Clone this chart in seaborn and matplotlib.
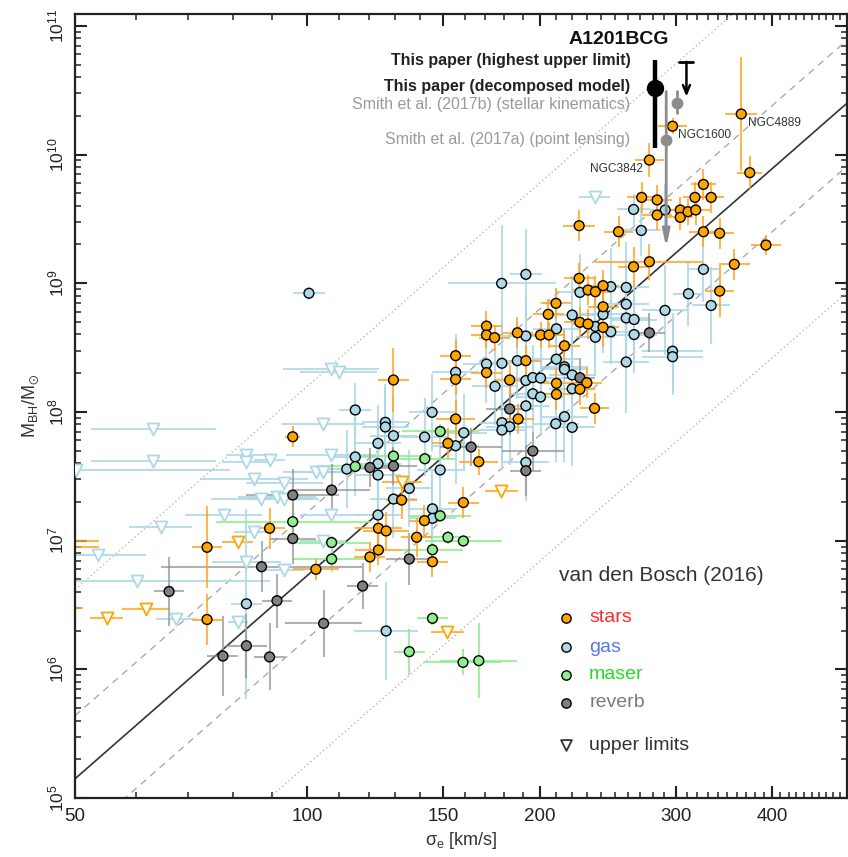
import numpy as np
import pandas as pd
import matplotlib
matplotlib.use("Agg")
import matplotlib.pyplot as plt
import seaborn as sns
from matplotlib.ticker import FixedLocator, LogFormatterSciNotation, NullFormatter, FixedFormatter

sns.set_style("ticks")
plt.rcParams["font.family"] = ["Liberation Sans", "DejaVu Sans"]
plt.rcParams["mathtext.fontset"] = "custom"
plt.rcParams["mathtext.rm"] = "Liberation Sans"
plt.rcParams["mathtext.it"] = "Liberation Sans:italic"
plt.rcParams["mathtext.bf"] = "Liberation Sans:bold"

# ---------------------------------------------------------------------------
# van den Bosch (2016) compilation: log10(sigma_e / km s^-1), log10(M_BH / Msun)
# and symmetric errors in dex
# ---------------------------------------------------------------------------
stars_log_sigma = [2.473, 2.562, 2.573, 2.443, 2.513, 2.433, 2.453, 2.502, 2.523, 2.453,
                   2.483, 2.483, 2.493, 2.503, 2.352, 2.403, 2.513, 2.534, 2.594, 2.443,
                   2.4225, 2.553, 2.352, 2.3635, 2.373, 2.383, 2.534, 2.322, 2.312, 2.383,
                   2.353, 2.3635, 2.383, 2.232, 2.232, 2.2425, 2.272, 2.302, 2.313, 2.333,
                   2.192, 2.283, 2.192, 2.232, 2.262, 2.1115, 2.362, 2.3226, 2.353, 2.3226,
                   2.372, 2.192, 2.273, 1.981, 2.182, 2.222, 2.122, 2.202, 2.1516, 2.092,
                   2.102, 2.1415, 2.092, 2.081, 2.162, 2.011, 1.870, 1.951, 1.870]
stars_log_mbh = [10.22, 10.315, 9.859, 9.957, 9.768, 9.667, 9.647, 9.667, 9.667, 9.530,
                 9.569, 9.512, 9.556, 9.569, 9.447, 9.400, 9.400, 9.388, 9.297, 9.167,
                 9.128, 9.147, 9.038, 8.947, 8.934, 8.981, 8.939, 8.844, 8.758, 8.817,
                 8.696, 8.683, 8.657, 8.667, 8.598, 8.577, 8.615, 8.598, 8.598, 8.514,
                 8.437, 8.398, 8.253, 8.305, 8.248, 8.248, 8.227, 8.222, 8.176, 8.137,
                 8.028, 7.945, 7.945, 7.807, 7.756, 7.613, 7.315, 7.296, 7.155, 7.096,
                 7.075, 7.026, 6.927, 6.873, 6.836, 6.777, 6.948, 7.096, 6.387]
stars_sigma_err = [0.019, 0.021, 0.016, 0.019, 0.016, 0.019, 0.019, 0.016, 0.016, 0.019,
                   0.016, 0.016, 0.016, 0.019, 0.021, 0.019, 0.019, 0.019, 0.019, 0.070,
                   0.020, 0.020, 0.020, 0.020, 0.020, 0.020, 0.019, 0.020, 0.020, 0.020,
                   0.020, 0.020, 0.020, 0.020, 0.020, 0.020, 0.020, 0.020, 0.020, 0.020,
                   0.020, 0.020, 0.020, 0.020, 0.020, 0.020, 0.020, 0.020, 0.020, 0.020,
                   0.019, 0.025, 0.020, 0.010, 0.020, 0.025, 0.020, 0.020, 0.020, 0.030,
                   0.030, 0.020, 0.030, 0.020, 0.020, 0.030, 0.020, 0.020, 0.020]
stars_mbh_err = [0.06, 0.44, 0.13, 0.13, 0.12, 0.12, 0.12, 0.12, 0.12, 0.12,
                 0.10, 0.10, 0.10, 0.12, 0.12, 0.12, 0.12, 0.12, 0.08, 0.14,
                 0.15, 0.12, 0.12, 0.12, 0.12, 0.12, 0.20, 0.12, 0.12, 0.12,
                 0.12, 0.12, 0.15, 0.12, 0.10, 0.10, 0.12, 0.10, 0.10, 0.12,
                 0.12, 0.12, 0.12, 0.12, 0.12, 0.25, 0.12, 0.12, 0.12, 0.12,
                 0.12, 0.15, 0.12, 0.08, 0.12, 0.10, 0.15, 0.12, 0.12, 0.12,
                 0.15, 0.15, 0.12, 0.12, 0.12, 0.08, 0.32, 0.16, 0.20]

gas_log_sigma = [2.002, 2.2516, 2.283, 2.4225, 2.4635, 2.4325, 2.513, 2.353, 2.393, 2.413,
                 2.4936, 2.383, 2.413, 2.4632, 2.523, 2.343, 2.373, 2.393, 2.413, 2.4232,
                 2.4232, 2.373, 2.3226, 2.283, 2.473, 2.473, 2.232, 2.252, 2.272, 2.3224,
                 2.333, 2.413, 2.192, 2.243, 2.283, 2.292, 2.302, 2.333, 2.343, 2.343,
                 2.292, 2.302, 2.062, 2.1615, 2.283, 2.252, 2.262, 2.252, 2.3217, 2.333,
                 2.343, 2.101, 2.101, 2.1115, 2.1518, 2.2025, 2.192, 2.0914, 2.283, 2.062,
                 2.051, 2.0914, 2.0914, 2.172, 2.132, 2.1115, 2.0914, 2.162, 2.162, 1.921,
                 2.102]
gas_log_mbh = [8.922, 8.999, 9.069, 9.573, 9.569, 9.410, 9.108, 8.929, 8.973, 8.967,
               8.918, 8.757, 8.837, 8.789, 8.827, 8.753, 8.664, 8.623, 8.730, 8.718,
               8.601, 8.580, 8.646, 8.590, 8.472, 8.429, 8.372, 8.378, 8.398, 8.410,
               8.351, 8.388, 8.308, 8.199, 8.244, 8.267, 8.263, 8.331, 8.287, 8.180,
               8.141, 8.116, 8.015, 7.997, 8.047, 7.916, 7.885, 7.859, 7.908, 7.963,
               7.880, 7.919, 7.883, 7.815, 7.805, 7.838, 7.737, 7.756, 7.608, 7.650,
               7.556, 7.598, 7.510, 7.549, 7.406, 7.323, 7.199, 7.247, 7.173, 6.509,
               6.298]
gas_sigma_err = [0.021, 0.070, 0.021, 0.021, 0.020, 0.025, 0.020, 0.030, 0.030, 0.030,
                 0.020, 0.030, 0.030, 0.030, 0.025, 0.030, 0.025, 0.030, 0.030, 0.030,
                 0.030, 0.025, 0.030, 0.030, 0.040, 0.040, 0.030, 0.030, 0.025, 0.030,
                 0.030, 0.030, 0.030, 0.030, 0.030, 0.025, 0.030, 0.030, 0.030, 0.030,
                 0.030, 0.030, 0.021, 0.030, 0.030, 0.030, 0.030, 0.030, 0.030, 0.030,
                 0.030, 0.030, 0.030, 0.030, 0.030, 0.030, 0.030, 0.030, 0.030, 0.030,
                 0.030, 0.030, 0.030, 0.030, 0.030, 0.030, 0.030, 0.030, 0.030, 0.020,
                 0.041]
gas_mbh_err = [0.05, 0.45, 0.35, 0.12, 0.20, 0.20, 0.25, 0.30, 0.30, 0.35,
               0.25, 0.30, 0.30, 0.35, 0.30, 0.30, 0.30, 0.25, 0.30, 0.30,
               0.30, 0.30, 0.30, 0.30, 0.30, 0.30, 0.30, 0.35, 0.30, 0.30,
               0.30, 0.40, 0.30, 0.30, 0.30, 0.25, 0.30, 0.30, 0.30, 0.30,
               0.30, 0.30, 0.21, 0.30, 0.30, 0.30, 0.30, 0.30, 0.30, 0.35,
               0.30, 0.30, 0.30, 0.30, 0.30, 0.30, 0.30, 0.30, 0.30, 0.30,
               0.30, 0.30, 0.30, 0.30, 0.30, 0.30, 0.30, 0.30, 0.30, 0.74,
               0.38]

maser_log_sigma = [2.172, 2.1521, 2.1115, 2.062, 1.981, 2.0314, 2.0314, 2.172, 2.182, 2.202,
                   2.162, 2.162, 2.132, 2.2016, 2.222]
maser_log_mbh = [7.848, 7.636, 7.657, 7.576, 7.147, 6.985, 6.857, 7.193, 7.026, 6.997,
                 6.929, 6.396, 6.137, 6.054, 6.067]
maser_sigma_err = [0.05, 0.04, 0.05, 0.05, 0.10, 0.05, 0.05, 0.04, 0.03, 0.05,
                   0.04, 0.02, 0.02, 0.05, 0.05]
maser_mbh_err = [0.06, 0.06, 0.06, 0.05, 0.15, 0.05, 0.10, 0.05, 0.05, 0.05,
                 0.05, 0.05, 0.18, 0.10, 0.29]

reverb_log_sigma = [2.443, 2.353, 2.262, 2.212, 2.292, 2.283, 2.1115, 2.081, 2.0314, 1.981,
                    1.981, 2.132, 1.9406, 1.8208, 1.9606, 2.021, 1.921, 1.8906, 1.951, 2.0715]
reverb_log_mbh = [8.615, 8.266, 8.023, 7.727, 7.696, 7.543, 7.580, 7.568, 7.393, 7.354,
                  7.016, 6.857, 6.797, 6.605, 6.533, 6.357, 6.183, 6.103, 6.096, 6.647]
reverb_sigma_err = [0.02, 0.02, 0.03, 0.04, 0.04, 0.02, 0.03, 0.03, 0.05, 0.06,
                    0.03, 0.03, 0.13, 0.02, 0.02, 0.05, 0.027, 0.02, 0.02, 0.02]
reverb_mbh_err = [0.15, 0.15, 0.20, 0.15, 0.15, 0.20, 0.15, 0.15, 0.20, 0.20,
                  0.20, 0.20, 0.20, 0.27, 0.21, 0.26, 0.25, 0.31, 0.26, 0.18]

# upper limits (gas and stellar dynamics)
gas_ul_log_sigma = [2.3721, 2.0307, 2.0407, 2.0207, 2.0307, 2.011, 2.0207, 2.0307, 2.0198, 1.8002,
                    1.8002, 1.700, 1.921, 1.921, 1.951, 1.9307, 1.9703, 1.9402, 1.9606, 1.9703,
                    1.8915, 1.8101, 1.9307, 1.7291, 1.921, 1.7795, 1.9703, 1.8304, 1.910]
gas_ul_log_mbh = [9.672, 8.333, 8.310, 7.906, 7.669, 7.537, 7.537, 7.199, 6.997, 7.865,
                  7.615, 7.545, 7.665, 7.611, 7.626, 7.475, 7.450, 7.325, 7.339, 7.325,
                  7.199, 7.106, 7.067, 6.888, 6.836, 6.686, 6.768, 6.391, 6.366]
gas_ul_sigma_err = [0.020, 0.062, 0.050, 0.054, 0.058, 0.043, 0.040, 0.040, 0.030, 0.081,
                    0.081, 0.200, 0.026, 0.032, 0.020, 0.070, 0.050, 0.065, 0.050, 0.045,
                    0.050, 0.041, 0.026, 0.062, 0.045, 0.172, 0.026, 0.026, 0.013]

stars_ul_log_sigma = [2.122, 2.2513, 2.1813, 1.910, 1.7903, 1.740, 1.660, 1.660, 1.655]
stars_ul_log_mbh = [7.455, 7.383, 6.292, 6.989, 6.471, 6.396, 6.999, 6.953, 6.479]
stars_ul_sigma_err = [0.026, 0.021, 0.021, 0.020, 0.030, 0.021, 0.070, 0.070, 0.054]

# M-sigma relation with intrinsic scatter (dex)
fit_intercept = 8.31
fit_slope = 5.25
fit_scatter = 0.49

# A1201 BCG and comparison measurements
a1201_log_sigma = 2.4506
a1201_log_mbh = 10.514
a1201_log_mbh_range = (10.05, 10.734)
a1201_limit_log_sigma = 2.491
a1201_limit_log_mbh = 10.72
smith_b_log_sigma = 2.4785
smith_b_log_mbh = 10.398
smith_b_range = (10.32, 10.49)
smith_a_log_sigma = 2.4648
smith_a_log_mbh = 10.11
smith_a_range = (9.28, 10.49)

colors = {"stars": "#FFA500", "gas": "#ADD8E6", "maser": "#90EE90", "reverb": "#808080"}
bar_colors = {"stars": "#FFA520", "gas": "#ADD8E6", "maser": "#90EE90", "reverb": "#909090"}
bar_alpha = {"stars": 0.8, "gas": 0.85, "maser": 0.85, "reverb": 0.7}

fig = plt.figure(figsize=(8.48, 8.57), dpi=100)
ax = fig.add_axes([75 / 848, 1 - 798 / 857, 772 / 848, 784 / 857])
ax.set_xscale("log")
ax.set_yscale("log")
ax.set_xlim(50, 500)
ax.set_ylim(1e5, 10 ** 11.092)

# relation lines
sig_line = np.geomspace(50, 500, 300)
base = fit_intercept + fit_slope * np.log10(sig_line / 200.0)
ax.plot(sig_line, 10 ** base, color="#333333", lw=1.2, zorder=1)
for k in (-1, 1):
    ax.plot(sig_line, 10 ** (base + k * fit_scatter), color="#aaaaaa", lw=1.0,
            dashes=(5, 4), zorder=1)
    ax.plot(sig_line, 10 ** (base + 3 * k * fit_scatter), color="#b8b8b8", lw=1.0,
            linestyle=(0, (1, 2)), zorder=1)


def log_bars(logv, dlog):
    logv = np.asarray(logv, float)
    dlog = np.asarray(dlog, float)
    v = 10 ** logv
    return v, np.vstack([v - 10 ** (logv - dlog), 10 ** (logv + dlog) - v])


groups = {
    "gas": (gas_log_sigma, gas_log_mbh, gas_sigma_err, gas_mbh_err),
    "maser": (maser_log_sigma, maser_log_mbh, maser_sigma_err, maser_mbh_err),
    "reverb": (reverb_log_sigma, reverb_log_mbh, reverb_sigma_err, reverb_mbh_err),
    "stars": (stars_log_sigma, stars_log_mbh, stars_sigma_err, stars_mbh_err),
}

# upper limits with their sigma ranges
for name, (ls, lm, dx) in {"gas": (gas_ul_log_sigma, gas_ul_log_mbh, gas_ul_sigma_err),
                           "stars": (stars_ul_log_sigma, stars_ul_log_mbh, stars_ul_sigma_err)}.items():
    s, xe = log_bars(ls, dx)
    m = 10 ** np.asarray(lm)
    ax.errorbar(s, m, xerr=xe, fmt="none", ecolor=bar_colors[name], elinewidth=1.5,
                alpha=bar_alpha[name], capsize=0, zorder=2)
    ax.scatter(s, m, marker="v", s=75, facecolors="white", edgecolors=colors[name],
               linewidths=1.3, zorder=3)

# error bars of detections
for name, (ls, lm, dx, dm) in groups.items():
    s, xe = log_bars(ls, dx)
    m, ye = log_bars(lm, dm)
    ax.errorbar(s, m, xerr=xe, yerr=ye, fmt="none", ecolor=bar_colors[name],
                elinewidth=1.5, alpha=bar_alpha[name], capsize=0, zorder=2)

frames = []
for name, (ls, lm, dx, dm) in groups.items():
    frames.append(pd.DataFrame({"sigma": 10 ** np.asarray(ls), "mbh": 10 ** np.asarray(lm),
                                "method": name}))
points = pd.concat(frames, ignore_index=True)
sns.scatterplot(data=points, x="sigma", y="mbh", hue="method", palette=colors, s=50,
                edgecolor="black", linewidth=1.0, legend=False, zorder=4, ax=ax)

# A1201 BCG
a_sig = 10 ** a1201_log_sigma
ax.plot([a_sig, a_sig], [10 ** a1201_log_mbh_range[0], 10 ** a1201_log_mbh_range[1]],
        color="black", lw=3.2, solid_capstyle="butt", zorder=6)
ax.plot([a_sig], [10 ** a1201_log_mbh], "o", color="black", ms=11.5, zorder=7)

l_sig = 10 ** a1201_limit_log_sigma
ax.plot([l_sig / 10 ** 0.009, l_sig * 10 ** 0.009], [10 ** a1201_limit_log_mbh] * 2,
        color="black", lw=2, zorder=6)
ax.annotate("", xy=(l_sig, 10 ** (a1201_limit_log_mbh - 0.27)),
            xytext=(l_sig, 10 ** a1201_limit_log_mbh),
            arrowprops=dict(arrowstyle="->,head_length=0.6,head_width=0.25", color="black",
                            lw=1.8, shrinkA=0, shrinkB=0), zorder=6)

sb = 10 ** smith_b_log_sigma
ax.plot([sb, sb], [10 ** smith_b_range[0], 10 ** smith_b_range[1]], color="#8c8c8c", lw=2,
        zorder=5)
ax.plot([sb], [10 ** smith_b_log_mbh], "o", color="#8c8c8c", ms=7.5, zorder=5)

sa = 10 ** smith_a_log_sigma
ax.annotate("", xy=(sa, 10 ** smith_a_range[0]), xytext=(sa, 10 ** smith_a_range[1]),
            arrowprops=dict(arrowstyle="-|>,head_length=1.0,head_width=0.22", color="#8c8c8c",
                            lw=2, shrinkA=0, shrinkB=0), zorder=5)
ax.plot([sa], [10 ** smith_a_log_mbh], "o", color="#8c8c8c", ms=7.5, zorder=5)

ax.text(253, 10 ** 10.89, "A1201BCG", ha="center", va="center", fontsize=14,
        fontweight="bold", color="#111111")
ax.text(262, 10 ** 10.734, "This paper (highest upper limit)", ha="right", va="center",
        fontsize=11.5, fontweight="bold", color="#222222")
ax.text(262, 10 ** 10.532, "This paper (decomposed model)", ha="right", va="center",
        fontsize=11.5, fontweight="bold", color="#222222")
ax.text(262, 10 ** 10.385, "Smith et al. (2017b) (stellar kinematics)", ha="right",
        va="center", fontsize=11.5, color="#9a9a9a")
ax.text(262, 10 ** 10.12, "Smith et al. (2017a) (point lensing)", ha="right",
        va="center", fontsize=11.5, color="#9a9a9a")

ax.text(301.6, 10 ** 10.152, "NGC1600", ha="left", va="center", fontsize=8.6, color="#333333")
ax.text(372.6, 10 ** 10.245, "NGC4889", ha="left", va="center", fontsize=8.6, color="#333333")
ax.text(272.5, 10 ** 9.887, "NGC3842", ha="right", va="center", fontsize=8.6, color="#333333")

# legend block
ax.text(0.627, 0.284, "van den Bosch (2016)", transform=ax.transAxes, ha="left",
        va="center", fontsize=15, color="#333333")
legend_rows = [("stars", "#FF2A2A", 0.2296), ("gas", "#5577EE", 0.1926),
               ("maser", "#22DD22", 0.1569), ("reverb", "#7a7a7a", 0.1212)]
for name, tcol, yy in legend_rows:
    ax.scatter([0.6365], [yy], transform=ax.transAxes, s=45, color=colors[name],
               edgecolor="black", linewidth=1.0, zorder=6, clip_on=False)
    ax.text(0.666, yy, name, transform=ax.transAxes, ha="left", va="center",
            fontsize=14, color=tcol)
ax.scatter([0.6365], [0.0676], transform=ax.transAxes, marker="v", s=60,
           facecolors="white", edgecolors="#333333", linewidth=1.3, zorder=6, clip_on=False)
ax.text(0.666, 0.0676, "upper limits", transform=ax.transAxes, ha="left", va="center",
        fontsize=14, color="#333333")

# axes styling
x_major = [50, 100, 150, 200, 300, 400]
x_minor = [v for v in range(60, 500, 10) if v not in x_major]
ax.xaxis.set_major_locator(FixedLocator(x_major))
ax.xaxis.set_major_formatter(FixedFormatter([str(v) for v in x_major]))
ax.xaxis.set_minor_locator(FixedLocator(x_minor))
ax.xaxis.set_minor_formatter(NullFormatter())
y_major = [10.0 ** p for p in range(5, 12)]
y_minor = [k * 10.0 ** p for p in range(5, 11) for k in range(2, 10)]
ax.yaxis.set_major_locator(FixedLocator(y_major))
ax.yaxis.set_major_formatter(LogFormatterSciNotation())
ax.yaxis.set_minor_locator(FixedLocator(y_minor))
ax.yaxis.set_minor_formatter(NullFormatter())

ax.tick_params(which="both", direction="in", top=True, right=True, colors="#222222")
ax.tick_params(which="major", length=8.5, width=1.5)
ax.tick_params(which="minor", length=4, width=1.1)
ax.tick_params(axis="x", which="major", labelsize=13.5, pad=7)
ax.tick_params(axis="y", which="major", labelsize=12.5, pad=6, labelrotation=90)
for lab in ax.get_yticklabels():
    lab.set_va("center")
for sp in ax.spines.values():
    sp.set_linewidth(1.6)
    sp.set_color("#222222")

ax.set_xlabel(r"$\mathregular{\sigma_e}$ [km/s]", fontsize=13, color="#333333", labelpad=4)
ax.set_ylabel(r"$\mathregular{M_{BH}/M_{\odot}}$", fontsize=13, color="#333333", labelpad=4)

fig.savefig("out.png", dpi=100)
